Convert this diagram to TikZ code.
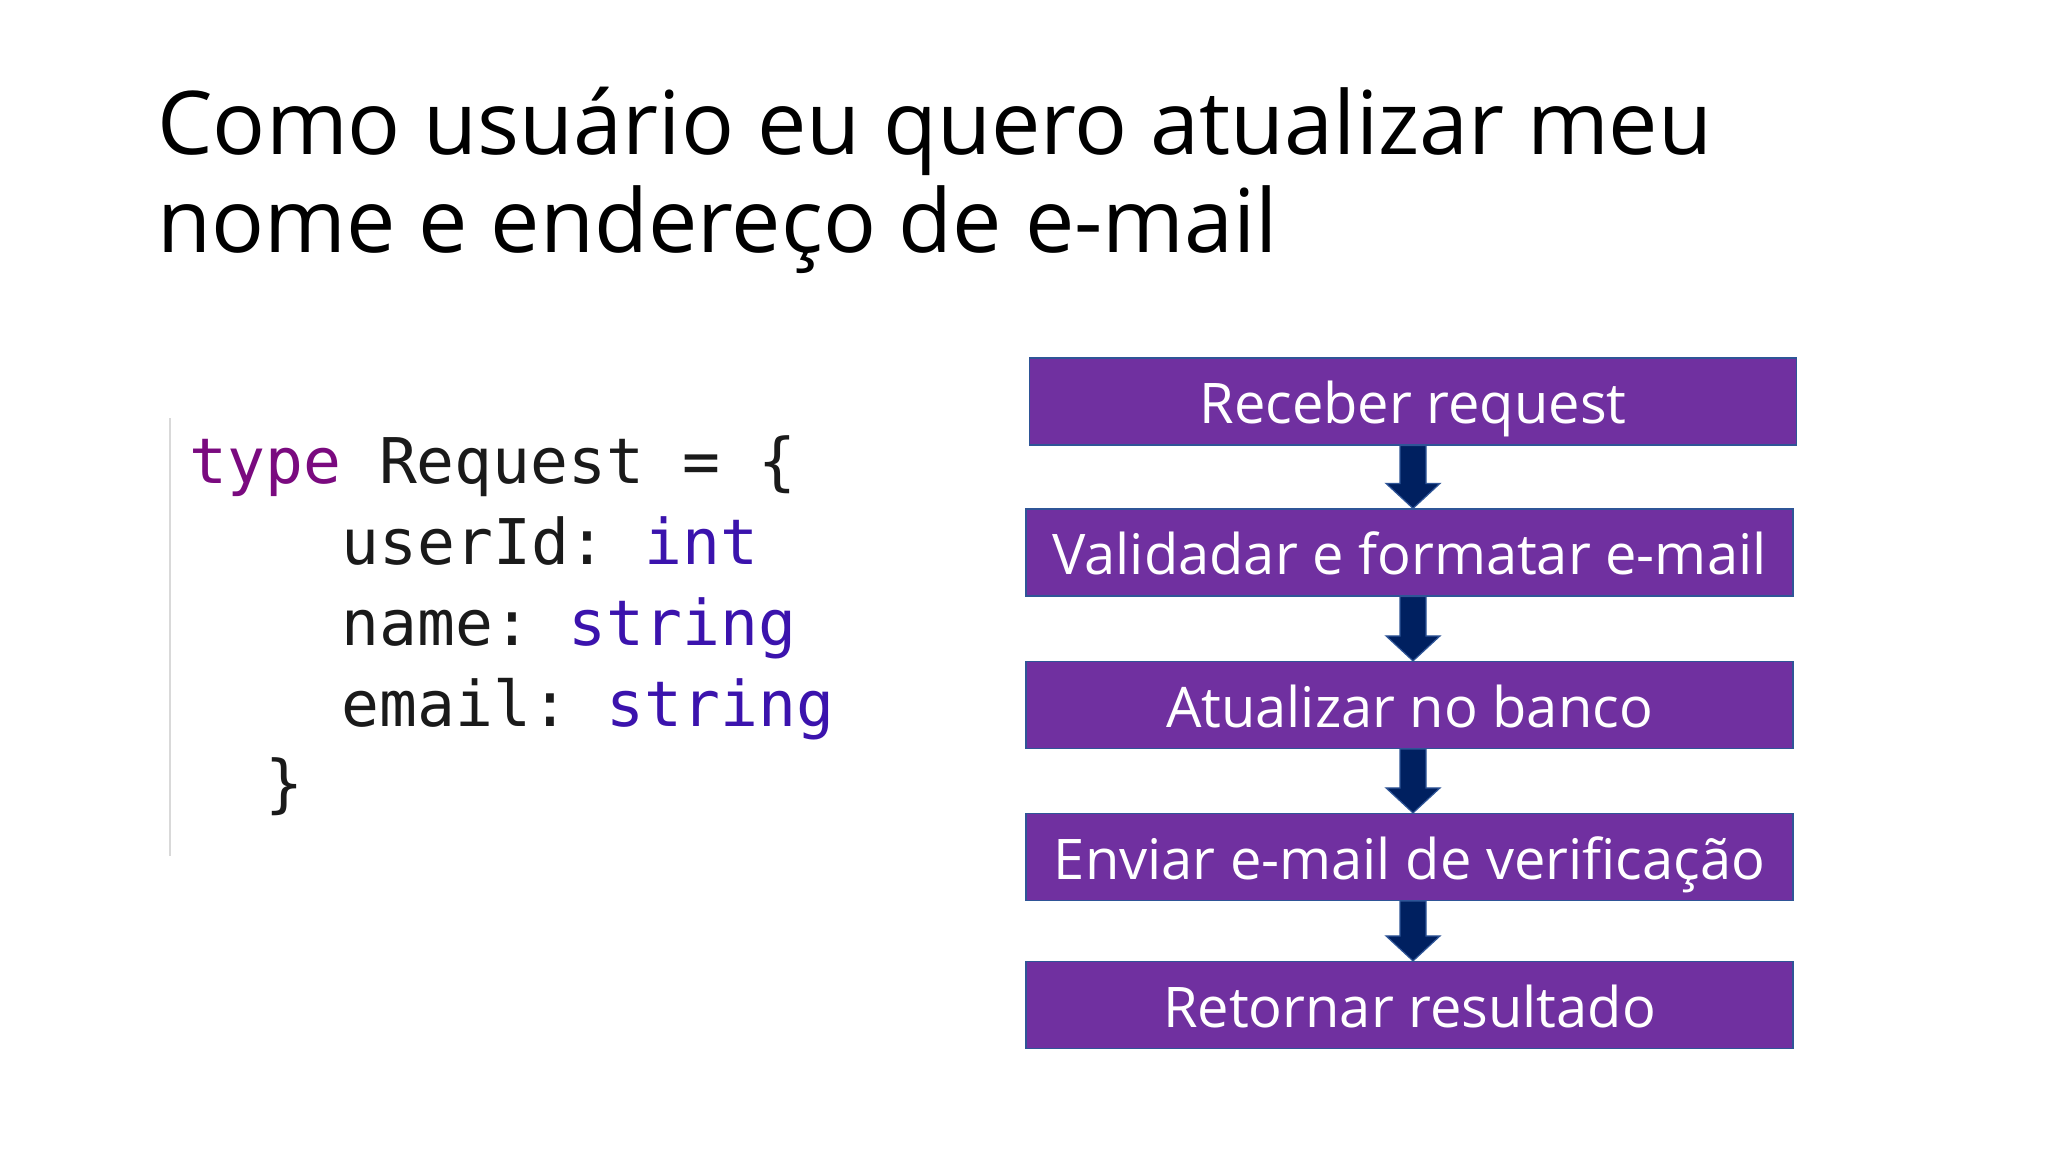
\documentclass[tikz,border=0pt]{standalone}
\usepackage{fontspec}
\setmainfont{Open Sans}
\setmonofont{DejaVu Sans Mono}
\usetikzlibrary{calc}
\definecolor{boxpurple}{HTML}{7030A0}
\definecolor{boxedge}{HTML}{2F5597}
\definecolor{navy}{HTML}{002060}
\definecolor{kwpurple}{HTML}{7A0A7F}
\definecolor{typeblue}{HTML}{3B13AD}
\definecolor{codeink}{HTML}{1A1A1A}
\definecolor{barcol}{HTML}{D9D9D9}
\tikzset{
  titletext/.style={anchor=base west, inner sep=0pt, font=\fontsize{44}{49}\selectfont, text=black},
  codetext/.style={anchor=base west, inner sep=0pt, font=\ttfamily\fontsize{31.5}{40.5}\selectfont, text=codeink},
  stepbox/.style={draw=boxedge, line width=0.6pt, fill=boxpurple, text=white,
    minimum width=383.5pt, minimum height=43.5pt, inner sep=0pt,
    text height=28pt, text depth=6pt, font=\fontsize{28}{34}\selectfont},
  flowarrow/.style={draw=boxedge, line width=0.6pt, fill=navy},
}
% arrow between two boxes, on the vertical axis through the coordinate (axis)
\newcommand\downflow[2]{%
  \draw[flowarrow]
    ($(axis |- #1.south)+(-13,0)$) -- ($(axis |- #2.north)+(-13,-25)$) --
    ($(axis |- #2.north)+(-27,-25)$) -- (axis |- #2.north) --
    ($(axis |- #2.north)+(27,-25)$) -- ($(axis |- #2.north)+(13,-25)$) --
    ($(axis |- #1.south)+(13,0)$) -- cycle;}
\begin{document}
\begin{tikzpicture}[x=0.5pt, y=-0.5pt]
\useasboundingbox[fill=white] (0,0) rectangle (2048,1152);
% title
\node[titletext] (title1) at (157,154) {Como usuário eu quero atualizar meu};
\node[titletext] (title2) at (157,252) {nome e endereço de e-mail};
% code
\draw[barcol, line width=1.2pt] (170,418) -- (170,856);
\node[codetext] (code1) at (189,483) {\textcolor{kwpurple}{type} Request = \{};
\node[codetext] (code2) at (341,564) {userId: \textcolor{typeblue}{int}};
\node[codetext] (code3) at (341,645) {name: \textcolor{typeblue}{string}};
\node[codetext] (code4) at (341,726) {email: \textcolor{typeblue}{string}};
\node[codetext] (code5) at (265,805) {\}};
% flow
\node[stepbox] (s1) at (1413,401.5) {Receber request};
\node[stepbox] (s2) at (1409.5,552.5) {Validadar e formatar e-mail};
\node[stepbox] (s3) at (1409.5,705) {Atualizar no banco};
\node[stepbox] (s4) at (1409.5,857) {Enviar e-mail de verificação};
\node[stepbox] (s5) at (1409.5,1005) {Retornar resultado};
\coordinate (axis) at (s1.south);
\downflow{s1}{s2}
\downflow{s2}{s3}
\downflow{s3}{s4}
\downflow{s4}{s5}
\end{tikzpicture}
\end{document}
